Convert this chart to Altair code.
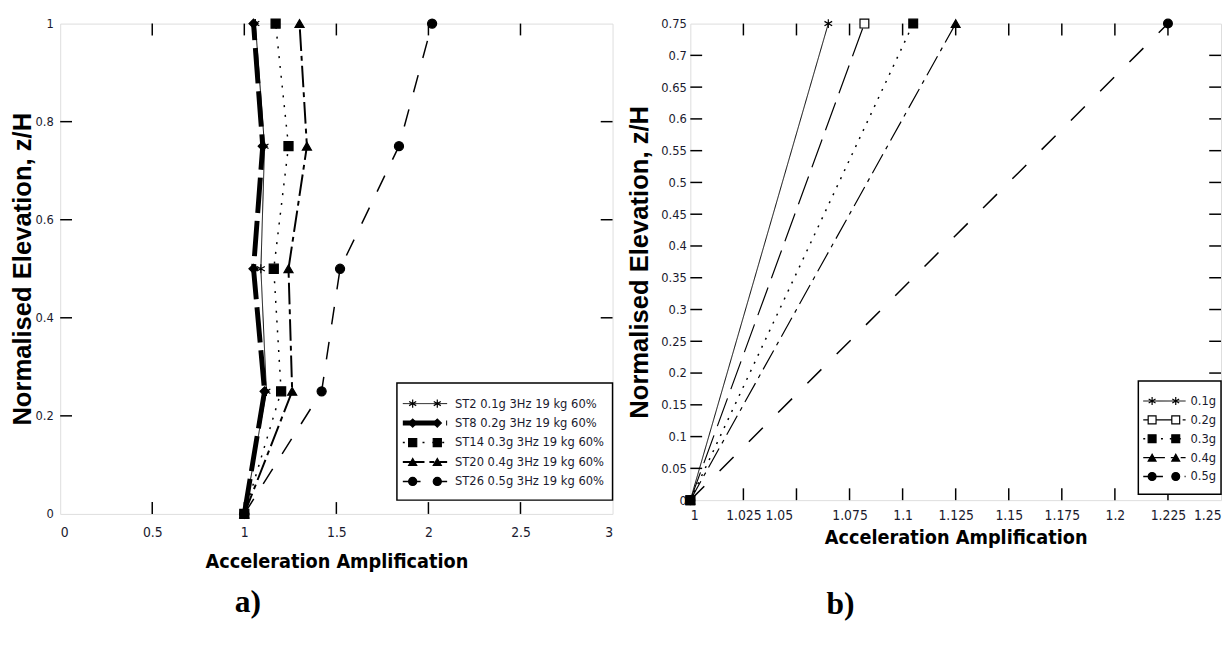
import altair as alt
import pandas as pd

# ---------------- panel a) data ----------------
z_a = [0, 0.25, 0.5, 0.75, 1.0]
series_a = ["ST2 0.1g 3Hz 19 kg 60%", "ST8 0.2g 3Hz 19 kg 60%",
            "ST14 0.3g 3Hz 19 kg 60%", "ST20 0.4g 3Hz 19 kg 60%",
            "ST26 0.5g 3Hz 19 kg 60%"]
amp_st2 = [1.00, 1.12, 1.09, 1.11, 1.06]
amp_st8 = [1.00, 1.11, 1.05, 1.10, 1.05]
amp_st14 = [1.00, 1.20, 1.16, 1.24, 1.17]
amp_st20 = [1.00, 1.26, 1.24, 1.34, 1.30]
amp_st26 = [1.00, 1.42, 1.52, 1.84, 2.02]
xticks_a = [0, 0.5, 1, 1.5, 2, 2.5, 3]
yticks_a = [0, 0.2, 0.4, 0.6, 0.8, 1]

# ---------------- panel b) data ----------------
z_b = [0, 0.75]
series_b = ["0.1g", "0.2g", "0.3g", "0.4g", "0.5g"]
amp_01g = [1.0, 1.065]
amp_02g = [1.0, 1.082]
amp_03g = [1.0, 1.105]
amp_04g = [1.0, 1.125]
amp_05g = [1.0, 1.225]
xticks_b = [1, 1.025, 1.05, 1.075, 1.1, 1.125, 1.15, 1.175, 1.2, 1.225, 1.25]
yticks_b = [0, 0.05, 0.1, 0.15, 0.2, 0.25, 0.3, 0.35, 0.4, 0.45, 0.5,
            0.55, 0.6, 0.65, 0.7, 0.75]

ASTER = "M0,-1L0,1M-0.87,-0.5L0.87,0.5M-0.87,0.5L0.87,-0.5"
NARROW = "'Liberation Sans Narrow', 'DejaVu Sans Condensed', 'Liberation Sans', sans-serif"
SANSB = "'Liberation Sans', Arial, sans-serif"
SERIF = "'Liberation Serif', 'Times New Roman', serif"


def long_table(series, z, values):
    rows = []
    for s, vals in zip(series, values):
        for zz, v in zip(z, vals):
            rows.append({"series": s, "z": zz, "amp": v})
    return pd.DataFrame(rows)


def panel(df, series, W, H, xdom, ydom, xticks, yticks, shapes, fills, dashes,
          widths, msize, leg, xlab_pad, xtitle_pad, ylab_size, ylab_pad,
          ytitle_pad, xlab_offset, top_pad, tag, tag_dx, tag_offset):
    xs = alt.Scale(domain=xdom, nice=False, zero=False)
    ys = alt.Scale(domain=ydom, nice=False, zero=False)
    xaxis = alt.Axis(values=xticks, format=".5~g", ticks=False, domain=False,
                     grid=False, labelFont=NARROW, labelFontSize=14,
                     labelColor="#1a1a2e", labelPadding=xlab_pad,
                     labelFlush=True, labelOffset=xlab_offset, labelOverlap=False,
                     title="Acceleration Amplification", titleFont=NARROW,
                     titleFontSize=20, titleFontWeight="bold", titleColor="black",
                     titlePadding=xtitle_pad)
    yaxis = alt.Axis(values=yticks, format=".5~g", ticks=False, domain=False,
                     grid=False, labelFont=NARROW, labelFontSize=ylab_size,
                     labelColor="#1a1a2e", labelPadding=ylab_pad, labelOverlap=False,
                     title="Normalised Elevation, z/H", titleFont=SANSB,
                     titleFontSize=26, titleFontWeight="bold", titleColor="black",
                     titlePadding=ytitle_pad)
    dash_enc = alt.StrokeDash("series:N", scale=alt.Scale(domain=series, range=dashes), legend=None)
    width_enc = alt.StrokeWidth("series:N", scale=alt.Scale(type="ordinal", domain=series, range=widths), legend=None)
    shape_enc = alt.Shape("series:N", scale=alt.Scale(domain=series, range=shapes), legend=None)
    fill_enc = alt.Fill("series:N", scale=alt.Scale(domain=series, range=fills), legend=None)

    def X(f):
        return alt.X(f, scale=xs, axis=xaxis)

    def Y(f):
        return alt.Y(f, scale=ys, axis=yaxis)

    base = alt.Chart(df)
    lines = base.mark_line(color="black").encode(
        x=X("amp:Q"), y=Y("z:Q"), detail="series:N", order="z:Q",
        strokeDash=dash_enc, strokeWidth=width_enc)
    pts = base.mark_point(size=msize, stroke="black", strokeWidth=1.2, opacity=1).encode(
        x=X("amp:Q"), y=Y("z:Q"), shape=shape_enc, fill=fill_enc)

    # inward ticks on all four sides
    xt = pd.DataFrame({"amp": xticks[1:-1]})
    yt = pd.DataFrame({"z": yticks[1:-1]})
    tk = dict(color="black", strokeWidth=1.5)
    t_bot = alt.Chart(xt).mark_rule(**tk).encode(
        x=X("amp:Q"), y=alt.value(H), y2=alt.value(H - 12))
    t_top = alt.Chart(xt).mark_rule(**tk).encode(
        x=X("amp:Q"), y=alt.value(0), y2=alt.value(12))
    t_lft = alt.Chart(yt).mark_rule(**tk).encode(
        y=Y("z:Q"), x=alt.value(0), x2=alt.value(12))
    t_rgt = alt.Chart(yt).mark_rule(**tk).encode(
        y=Y("z:Q"), x=alt.value(W), x2=alt.value(W - 12))

    # spacer above plot (white) to set the top position
    spacer = alt.Chart(pd.DataFrame({"a": [0]})).mark_rule(color="white").encode(
        x=alt.value(0), y=alt.value(-top_pad), y2=alt.value(-3))

    # legend box
    ld = pd.DataFrame({"series": series, "i": list(range(len(series)))})
    box = alt.Chart(pd.DataFrame({"a": [0]})).mark_rect(
        fill="white", stroke="black", strokeWidth=1.5).encode(
        x=alt.value(leg["bx0"]), x2=alt.value(W), y=alt.value(leg["by0"]),
        y2=alt.value(leg["by1"]))
    lbase = alt.Chart(ld).transform_calculate(
        z=f"{leg['top']} - datum.i * {leg['step']}")
    l_line = lbase.mark_rule(color="black").encode(
        x=alt.value(leg["lx0"]), x2=alt.value(leg["lx1"]),
        y=Y("z:Q"), strokeDash=dash_enc, strokeWidth=width_enc)
    l_p1 = lbase.mark_point(size=msize * 0.8, stroke="black", strokeWidth=1.2, opacity=1).encode(
        x=alt.value(leg["px1"]), y=Y("z:Q"), shape=shape_enc, fill=fill_enc)
    l_p2 = lbase.mark_point(size=msize * 0.8, stroke="black", strokeWidth=1.2, opacity=1).encode(
        x=alt.value(leg["px2"]), y=Y("z:Q"), shape=shape_enc, fill=fill_enc)
    l_txt = lbase.mark_text(align="left", baseline="middle", font=NARROW,
                            fontSize=leg["fs"], color="#1a1a2e").encode(
        x=alt.value(leg["tx"]), y=Y("z:Q"), text="series:N")

    return alt.layer(lines, pts, t_bot, t_top, t_lft, t_rgt, spacer,
                     box, l_line, l_p1, l_p2, l_txt).properties(
        width=W, height=H,
        title=alt.TitleParams(tag, orient="bottom", anchor="middle", font=SERIF,
                              fontSize=32, fontWeight="bold", color="black",
                              dx=tag_dx, offset=tag_offset))


df_a = long_table(series_a, z_a, [amp_st2, amp_st8, amp_st14, amp_st20, amp_st26])
df_b = long_table(series_b, z_b, [amp_01g, amp_02g, amp_03g, amp_04g, amp_05g])

left = panel(
    df_a, series_a, 561, 498, [0, 3], [0, 1], xticks_a, yticks_a,
    [ASTER, "diamond", "square", "triangle-up", "circle"],
    ["transparent", "black", "black", "black", "black"],
    [[1, 0], [36, 8], [2, 8], [22, 5, 5, 5], [18, 18]],
    [1, 5, 1.5, 2, 1.5], 85,
    dict(bx0=342, by0=365, by1=484, top=0.225, step=0.0397,
         lx0=348, lx1=393, px1=358, px2=383, tx=401, fs=13),
    12, 12, 13, 7, 0, 0, 3, "a)", -90, 17)

right = panel(
    df_b, series_b, 539, 484, [1, 1.25], [0, 0.75], xticks_b, yticks_b,
    [ASTER, "square", "square", "triangle-up", "circle"],
    ["transparent", "white", "black", "black", "black"],
    [[1, 0], [30, 10], [2, 7], [22, 6, 4, 6], [20, 22]],
    [1, 1.2, 1.5, 1.2, 1.5], 80,
    dict(bx0=455, by0=363, by1=478, top=0.156, step=0.0297,
         lx0=460, lx1=503, px1=469, px2=493, tx=508, fs=13),
    9, 5, 13, 4, 8,
    {"condition": {"test": "abs(datum.value - 1.05) < 0.001", "value": -18}, "value": 0},
    3, "b)", -117, 43)

chart = alt.hconcat(left, right, spacing=12).resolve_scale(
    shape="independent", fill="independent", strokeDash="independent",
    strokeWidth="independent").properties(padding=0).configure_view(
    stroke="black", strokeWidth=2).configure(background="white")

chart.save("out.html", embed_options={"renderer": "svg", "actions": False})
